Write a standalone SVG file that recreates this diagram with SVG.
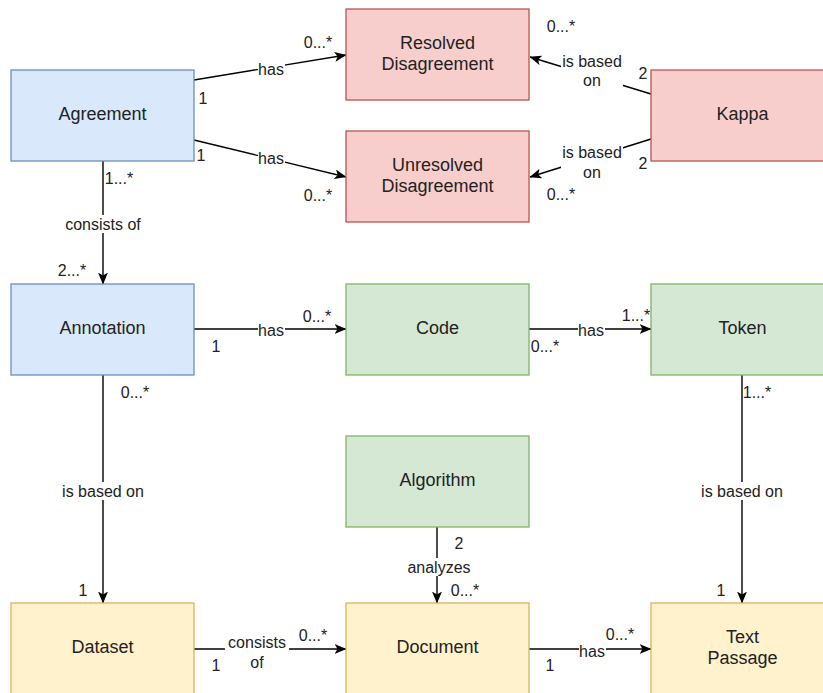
<svg xmlns="http://www.w3.org/2000/svg" width="823" height="693" viewBox="0 0 823 693">
<defs>
<style>
.n rect{stroke-width:1.3}
.blue rect{fill:#dae8fc;stroke:#6c8ebf}
.red rect{fill:#f8cecc;stroke:#b85450}
.green rect{fill:#d5e8d4;stroke:#82b366}
.yellow rect{fill:#fff2cc;stroke:#d6b656}
.n text{font-family:"Liberation Sans",Arial,sans-serif;font-size:18px;fill:#222;text-anchor:middle;dominant-baseline:central}
.e path{fill:none;stroke:#000;stroke-width:1.4}
.lb{fill:#fff}
.t{font-family:"Liberation Sans",Arial,sans-serif;font-size:16px;fill:#222;text-anchor:middle;dominant-baseline:central}
</style>
<marker id="arr" viewBox="0 0 12 10" refX="11.5" refY="5" markerWidth="12" markerHeight="10" markerUnits="userSpaceOnUse" orient="auto">
<path d="M0,0 L12,5 L0,10 L3,5 z" fill="#000"/>
</marker>
</defs>
<rect width="823" height="693" fill="#fff"/>
<g id="connectors" class="e">
<path d="M194,80 L346,55" marker-end="url(#arr)"/>
<path d="M194,140 L346,177" marker-end="url(#arr)"/>
<path d="M651,94 L530,57" marker-end="url(#arr)"/>
<path d="M651,139 L530,177" marker-end="url(#arr)"/>
<path d="M103,161 L103,284" marker-end="url(#arr)"/>
<path d="M194,329 L346,329" marker-end="url(#arr)"/>
<path d="M529,329 L651,329" marker-end="url(#arr)"/>
<path d="M103,375 L103,603" marker-end="url(#arr)"/>
<path d="M742,375 L742,603" marker-end="url(#arr)"/>
<path d="M437,527 L437,603" marker-end="url(#arr)"/>
<path d="M194,649 L346,649" marker-end="url(#arr)"/>
<path d="M529,649 L651,649" marker-end="url(#arr)"/>
<!-- label backgrounds -->
<rect class="lb" x="258" y="61" width="27" height="16"/>
<rect class="lb" x="258" y="150" width="27" height="16"/>
<rect class="lb" x="561" y="52" width="62" height="36"/>
<rect class="lb" x="561" y="143" width="62" height="38"/>
<rect class="lb" x="62" y="215" width="82" height="18"/>
<rect class="lb" x="258" y="322" width="27" height="16"/>
<rect class="lb" x="578" y="322" width="27" height="16"/>
<rect class="lb" x="59" y="482" width="88" height="18"/>
<rect class="lb" x="698" y="482" width="88" height="18"/>
<rect class="lb" x="406" y="558" width="66" height="18"/>
<rect class="lb" x="225" y="632" width="64" height="38"/>
<rect class="lb" x="579" y="643" width="27" height="16"/>
<!-- labels -->
<text class="t" x="271" y="69">has</text>
<text class="t" x="318" y="42">0...*</text>
<text class="t" x="203" y="98">1</text>
<text class="t" x="271" y="158">has</text>
<text class="t" x="201" y="155">1</text>
<text class="t" x="318" y="195">0...*</text>
<text class="t" x="592" y="61">is based</text>
<text class="t" x="592" y="80">on</text>
<text class="t" x="643" y="73">2</text>
<text class="t" x="561" y="26">0...*</text>
<text class="t" x="592" y="152">is based</text>
<text class="t" x="592" y="172">on</text>
<text class="t" x="643" y="163">2</text>
<text class="t" x="561" y="194">0...*</text>
<text class="t" x="119" y="178">1...*</text>
<text class="t" x="103" y="224">consists of</text>
<text class="t" x="72" y="270">2...*</text>
<text class="t" x="271" y="330">has</text>
<text class="t" x="216" y="346">1</text>
<text class="t" x="317" y="316">0...*</text>
<text class="t" x="591" y="330">has</text>
<text class="t" x="545" y="346">0...*</text>
<text class="t" x="636" y="315">1...*</text>
<text class="t" x="135" y="392">0...*</text>
<text class="t" x="103" y="491">is based on</text>
<text class="t" x="83" y="590">1</text>
<text class="t" x="757" y="392">1...*</text>
<text class="t" x="742" y="491">is based on</text>
<text class="t" x="721" y="590">1</text>
<text class="t" x="459" y="543">2</text>
<text class="t" x="439" y="567">analyzes</text>
<text class="t" x="465" y="590">0...*</text>
<text class="t" x="257" y="642">consists</text>
<text class="t" x="257" y="662">of</text>
<text class="t" x="216" y="665">1</text>
<text class="t" x="313" y="635">0...*</text>
<text class="t" x="592" y="651">has</text>
<text class="t" x="550" y="665">1</text>
<text class="t" x="620" y="634">0...*</text>
</g>
<g id="agreement" class="n blue"><rect x="11" y="70" width="183" height="91"/><text x="102.5" y="114">Agreement</text></g>
<g id="resolved" class="n red"><rect x="346" y="9" width="183" height="91"/><text x="437.5" y="43">Resolved</text><text x="437.5" y="64">Disagreement</text></g>
<g id="unresolved" class="n red"><rect x="346" y="131" width="183" height="91"/><text x="437.5" y="165">Unresolved</text><text x="437.5" y="186">Disagreement</text></g>
<g id="kappa" class="n red"><rect x="651" y="70" width="183" height="91"/><text x="742.5" y="114">Kappa</text></g>
<g id="annotation" class="n blue"><rect x="11" y="284" width="183" height="91"/><text x="102.5" y="328">Annotation</text></g>
<g id="code" class="n green"><rect x="346" y="284" width="183" height="91"/><text x="437.5" y="328">Code</text></g>
<g id="token" class="n green"><rect x="651" y="284" width="183" height="91"/><text x="742.5" y="328">Token</text></g>
<g id="algorithm" class="n green"><rect x="346" y="436" width="183" height="91"/><text x="437.5" y="480">Algorithm</text></g>
<g id="dataset" class="n yellow"><rect x="11" y="603" width="183" height="91"/><text x="102.5" y="647">Dataset</text></g>
<g id="document" class="n yellow"><rect x="346" y="603" width="183" height="91"/><text x="437.5" y="647">Document</text></g>
<g id="textpassage" class="n yellow"><rect x="651" y="603" width="183" height="91"/><text x="742.5" y="637">Text</text><text x="742.5" y="658">Passage</text></g>
</svg>
